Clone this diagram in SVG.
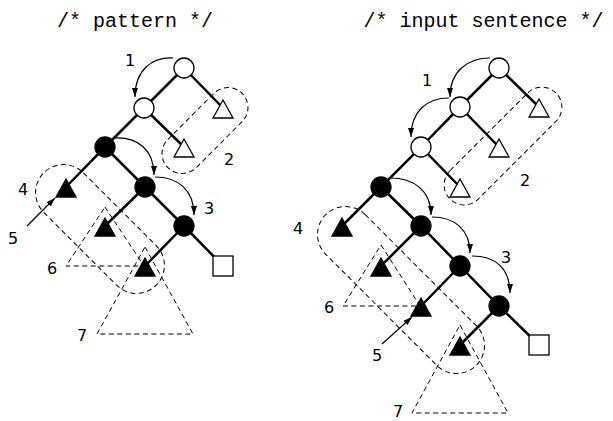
<svg xmlns="http://www.w3.org/2000/svg" xmlns:xlink="http://www.w3.org/1999/xlink" width="613" height="421" viewBox="0 0 613 421">
<style>
.title{font-family:"Liberation Mono","DejaVu Sans Mono",monospace;font-size:20px;fill:#000;text-anchor:middle}
.lbl{font-family:"DejaVu Sans","Liberation Sans",sans-serif;font-size:16px;fill:#000;text-anchor:middle}
.edge{stroke:#000;stroke-width:2.5;fill:none;stroke-linecap:round}
.open{fill:#fff;stroke:#000;stroke-width:1.3}
.fill{fill:#000;stroke:#000;stroke-width:1.3}
.dash{fill:none;stroke:#000;stroke-width:1;stroke-dasharray:5,3.5}
.arr{fill:none;stroke:#000;stroke-width:1.2;marker-end:url(#ah)}
</style>
<defs>
<marker id="ah" markerUnits="userSpaceOnUse" markerWidth="10" markerHeight="8" refX="9" refY="3" orient="auto">
<path d="M0,0 L9,3 L0,6 z" fill="#000"/>
</marker>
<circle id="oc" r="10" class="open"/>
<circle id="fc" r="10" class="fill"/>
<path id="ot" d="M0,-8 L10,10 L-10,10 z" class="open"/>
<path id="ft" d="M0,-8 L10,10 L-10,10 z" class="fill"/>
<rect id="sq" x="-10" y="-10" width="20" height="20" class="open"/>
</defs>
<rect width="613" height="421" fill="#fff"/>
<text class="title" x="135" y="27">/* pattern */</text>
<text class="title" x="483.5" y="27">/* input sentence */</text>
<g id="dashed-groups">
<rect class="dash" x="-52.5" y="-20" width="105" height="40" rx="20" transform="translate(205,130.5) rotate(-45)"/>
<rect class="dash" x="-79.5" y="-28" width="159" height="56" rx="28" transform="translate(100,229) rotate(45)"/>
<path class="dash" d="M105,207 L144,266 L66,266 Z"/>
<path class="dash" d="M145,247 L193,334 L97,334 Z"/>
<rect class="dash" x="-75" y="-20" width="150" height="40" rx="20" transform="translate(503,146) rotate(-45)"/>
<rect class="dash" x="-106.5" y="-28" width="213" height="56" rx="28" transform="translate(401,290) rotate(45)"/>
<path class="dash" d="M381,245 L420,306 L343,306 Z"/>
<path class="dash" d="M460,325 L508,413 L412,413 Z"/>
</g>
<g id="connectors">
<path class="edge" d="M184,68 L144,108 L105,147 L66,187 M184,68 L223,108 M144,108 L184,147 M105,147 L145,187 L184,226 L223,266 M145,187 L105,226 M184,226 L145,266"/>
<path class="edge" d="M499,68 L460,107 L421,147 L381,187 L342,226 M499,68 L539,107 M460,107 L499,147 M421,147 L460,187 M381,187 L421,226 L460,266 L499,306 L539,345 M421,226 L381,266 M460,266 L421,306 M499,306 L460,345"/>
<path class="arr" d="M173,58 C152,57 135,70 135,97"/>
<path class="arr" d="M115,138 C138,137 154,150 154,175"/>
<path class="arr" d="M155,177 C178,177 194,190 194,215"/>
<path class="arr" d="M27,226 L55,198"/>
<path class="arr" d="M490,58 C468,58 450,71 450,97"/>
<path class="arr" d="M449,98 C427,98 411,111 411,137"/>
<path class="arr" d="M390,178 C413,178 431,190 431,215"/>
<path class="arr" d="M432,217 C455,217 470,230 470,253"/>
<path class="arr" d="M472,256 C495,256 510,268 510,293"/>
<path class="arr" d="M382,344 L412,317"/>
</g>
<g id="p-root"><use xlink:href="#oc" x="184" y="68"/></g>
<g id="p-n1"><use xlink:href="#oc" x="144" y="108"/></g>
<g id="p-t1"><use xlink:href="#ot" x="223" y="108"/></g>
<g id="p-n2"><use xlink:href="#fc" x="105" y="147"/></g>
<g id="p-t2"><use xlink:href="#ot" x="184" y="147"/></g>
<g id="p-t3"><use xlink:href="#ft" x="66" y="187"/></g>
<g id="p-n3"><use xlink:href="#fc" x="145" y="187"/></g>
<g id="p-t4"><use xlink:href="#ft" x="105" y="226"/></g>
<g id="p-n4"><use xlink:href="#fc" x="184" y="226"/></g>
<g id="p-t5"><use xlink:href="#ft" x="145" y="266"/></g>
<g id="p-sq"><use xlink:href="#sq" x="223" y="266"/></g>
<g id="s-root"><use xlink:href="#oc" x="499" y="68"/></g>
<g id="s-n1"><use xlink:href="#oc" x="460" y="107"/></g>
<g id="s-t1"><use xlink:href="#ot" x="539" y="107"/></g>
<g id="s-n2"><use xlink:href="#oc" x="421" y="147"/></g>
<g id="s-t2"><use xlink:href="#ot" x="499" y="147"/></g>
<g id="s-n3"><use xlink:href="#fc" x="381" y="187"/></g>
<g id="s-t3"><use xlink:href="#ot" x="460" y="187"/></g>
<g id="s-t4"><use xlink:href="#ft" x="342" y="226"/></g>
<g id="s-n4"><use xlink:href="#fc" x="421" y="226"/></g>
<g id="s-t5"><use xlink:href="#ft" x="381" y="266"/></g>
<g id="s-n5"><use xlink:href="#fc" x="460" y="266"/></g>
<g id="s-t6"><use xlink:href="#ft" x="421" y="306"/></g>
<g id="s-n6"><use xlink:href="#fc" x="499" y="306"/></g>
<g id="s-t7"><use xlink:href="#ft" x="460" y="345"/></g>
<g id="s-sq"><use xlink:href="#sq" x="539" y="345"/></g>
<g id="labels">
<text class="lbl" x="130" y="66">1</text>
<text class="lbl" x="229" y="165">2</text>
<text class="lbl" x="209" y="214">3</text>
<text class="lbl" x="23" y="195">4</text>
<text class="lbl" x="13" y="244">5</text>
<text class="lbl" x="52" y="274">6</text>
<text class="lbl" x="82" y="341">7</text>
<text class="lbl" x="427" y="86">1</text>
<text class="lbl" x="525" y="186">2</text>
<text class="lbl" x="506" y="263">3</text>
<text class="lbl" x="298" y="234">4</text>
<text class="lbl" x="377" y="361">5</text>
<text class="lbl" x="329" y="313">6</text>
<text class="lbl" x="398" y="417">7</text>
</g>
</svg>
